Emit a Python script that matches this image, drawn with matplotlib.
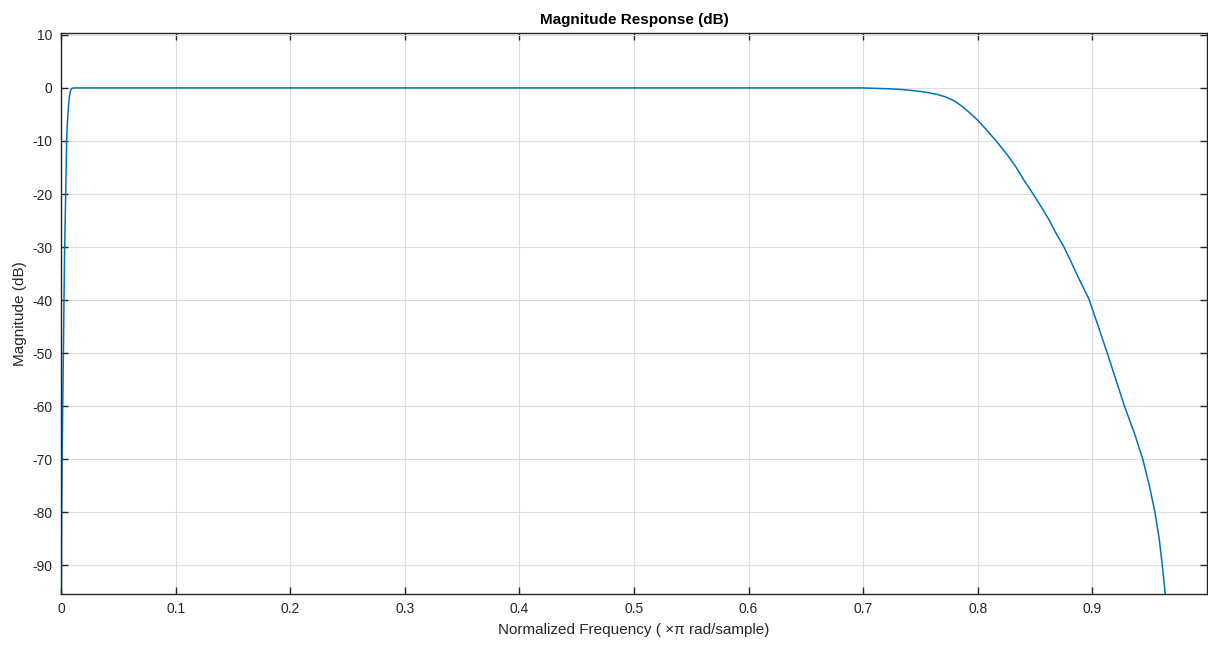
import numpy as np
import matplotlib.pyplot as plt

plt.rcParams['font.family'] = ['Liberation Sans', 'DejaVu Sans']
plt.rcParams['axes.unicode_minus'] = False

# Точки АЧХ (нормированная частота, дБ)
freq = [0.0, 0.0003, 0.0006, 0.001, 0.0015, 0.0022, 0.0026, 0.0032, 0.0041,
        0.0049, 0.0055, 0.0061, 0.0067, 0.0073, 0.0079, 0.0085, 0.0093,
        0.011, 0.02, 0.1, 0.3, 0.5, 0.7, 0.707, 0.714, 0.722, 0.73, 0.738,
        0.745, 0.752, 0.758, 0.765, 0.772, 0.78, 0.787, 0.793, 0.8, 0.808,
        0.816, 0.825, 0.833, 0.84, 0.848, 0.855, 0.862, 0.868, 0.875,
        0.881, 0.887, 0.892, 0.897, 0.9052, 0.913, 0.9205, 0.928, 0.9365,
        0.944, 0.9497, 0.9546, 0.9583, 0.961, 0.9636, 0.966]
mag = [-140, -95, -80, -70, -60, -48, -40, -30, -20,
       -10, -7, -4.8, -3, -1.7, -0.9, -0.4, -0.1,
       0, 0, 0, 0, 0, 0, -0.05, -0.1, -0.15, -0.25, -0.38,
       -0.55, -0.72, -0.95, -1.25, -1.7, -2.5, -3.6, -4.7, -6.1, -8,
       -10, -12.4, -14.8, -17.3, -19.9, -22.3, -24.8, -27.3, -29.9,
       -32.6, -35.4, -37.6, -39.8, -45, -50, -55, -60, -65,
       -70, -75, -80, -85, -90, -95.4, -100]

xticks = [0, 0.1, 0.2, 0.3, 0.4, 0.5, 0.6, 0.7, 0.8, 0.9]
yticks = [-90, -80, -70, -60, -50, -40, -30, -20, -10, 0, 10]

fig = plt.figure(figsize=(12.08, 6.47), dpi=100)
ax = fig.add_axes([61/1208, 53/647, 1146/1208, 561.5/647])

ax.plot(freq, mag, color='#0072BD', linewidth=1.1)

ax.set_xlim(0, 1)
ax.set_ylim(-95.4, 10.45)
ax.set_xticks(xticks)
ax.set_xticklabels([('%g' % t) for t in xticks])
ax.set_yticks(yticks)

ax.grid(True, color='#dedede', linewidth=0.8)
ax.tick_params(direction='in', length=5, width=1, colors='#262626',
               labelsize=10, top=True, right=True, pad=6)
for s in ax.spines.values():
    s.set_color('#262626')
    s.set_linewidth(1)

ax.set_title('Magnitude Response (dB)', fontsize=11, fontweight='bold', pad=6)
ax.set_xlabel('Normalized Frequency ( ×π rad/sample)', fontsize=11,
              color='#262626', labelpad=5)
ax.set_ylabel('Magnitude (dB)', fontsize=11, color='#262626', labelpad=4)

fig.savefig('out.png', dpi=100)
